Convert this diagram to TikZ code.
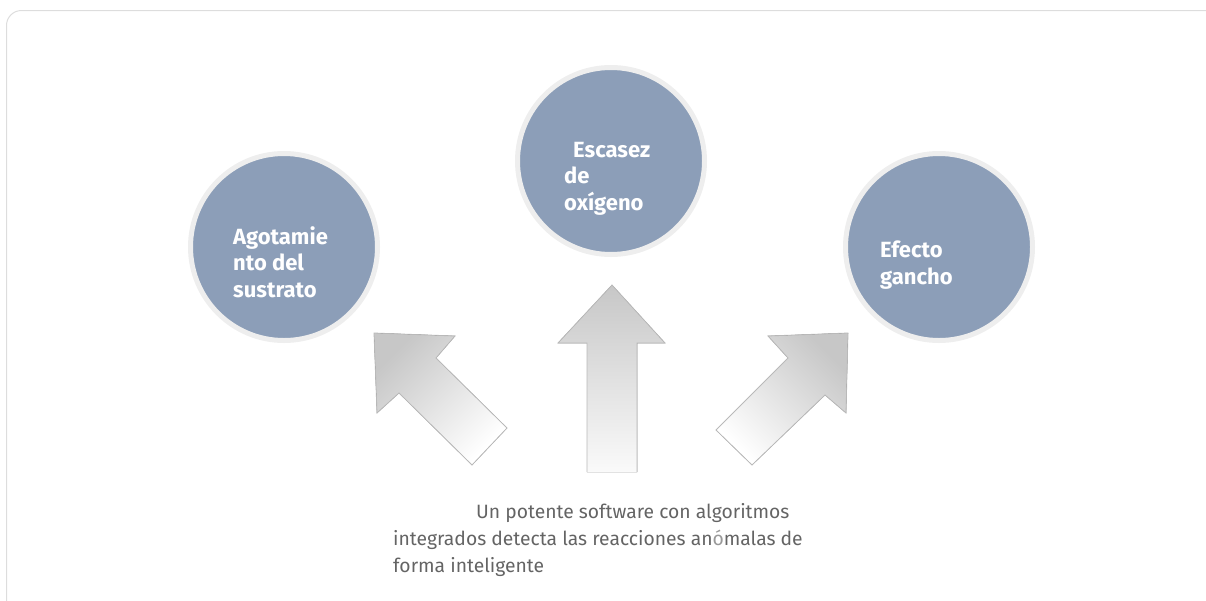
\documentclass[tikz,border=0pt]{standalone}
\usepackage{fontspec}
\setmainfont{Fira Sans}
\usetikzlibrary{positioning}
\definecolor{bubblefill}{RGB}{140,158,184}
\definecolor{bubblering}{RGB}{238,238,238}
\definecolor{framegray}{RGB}{221,221,221}
\definecolor{arrowedge}{RGB}{185,185,185}
\definecolor{notegray}{RGB}{100,100,100}

\begin{document}
\begin{tikzpicture}[x=1pt,y=-1pt]
\tikzstyle{every node}+=[inner sep=0pt]
\tikzstyle{bubble}=[circle, fill=bubblefill, draw=bubblering, line width=5pt, minimum size=187pt]
\tikzstyle{bubbletext}=[text=white, align=left, anchor=base west, font=\fontsize{22}{26.5}\selectfont\bfseries]
\tikzstyle{bigarrow}=[draw=arrowedge, line width=0.8pt, top color=black!22, bottom color=white]
\useasboundingbox (0,0) rectangle (1206,600);
\draw [framegray, line width=1pt, rounded corners=15pt] (6.5,10.5) rectangle (1225,620);
% circles
\node [bubble] (sustrato) at (284,247) {};
\node [bubble] (oxigeno) at (611,161) {};
\node [bubble] (gancho) at (939,247) {};
\node [bubbletext] (sustratotext) at (233,297) {Agotamie\\nto del\\sustrato};
\node [bubbletext] (oxigenotext) at (564,210) {\hspace*{9pt}Escasez\\de\\oxígeno};
\node [bubbletext] (ganchotext) at (880,284) {Efecto\\gancho};
% arrows
\fill [bigarrow, shading angle=45] (374,333) -- (455,336) -- (436,358) -- (507,428) -- (472,465) -- (399,393) -- (377,413) -- cycle;
\fill [bigarrow, draw=none, bottom color=white!98!black] (612,285) -- (665,343) -- (637,343) -- (637,472) -- (587,472) -- (587,343) -- (558,343) -- cycle;
\draw [arrowedge, line width=0.8pt] (637,472) -- (637,343) -- (665,343) -- (612,285) -- (558,343) -- (587,343) -- (587,472);
\fill [bigarrow, shading angle=-45] (848,333) -- (768,336) -- (788,358) -- (716,430) -- (752,465) -- (825,395) -- (846,413) -- cycle;
% note
\node [text=notegray, align=left, anchor=base west, font=\fontsize{19.3}{27}\selectfont] (note) at (393,572)
  {\hspace*{83pt}Un potente software con algoritmos\\integrados detecta las reacciones an\textcolor{black!40}{ó}malas de\\forma inteligente};
\end{tikzpicture}
\end{document}
